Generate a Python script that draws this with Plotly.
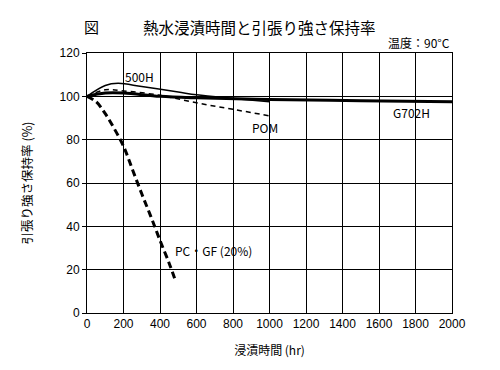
import plotly.graph_objects as go

# Data
g702h_x = [0, 100, 200, 400, 600, 1000, 1500, 2000]
g702h_y = [100, 101.5, 101.5, 100, 99.3, 98.5, 98, 97.5]

h500_x = [0, 100, 170, 300, 500, 600, 800, 1000]
h500_y = [100, 105, 106, 104.5, 102, 100.7, 99, 97.5]

pom_x = [0, 100, 200, 400, 600, 800, 1000]
pom_y = [100, 103, 102.5, 100.5, 97, 94, 91]

pcgf_x = [0, 50, 100, 150, 200, 250, 300, 350, 400, 450, 480]
pcgf_y = [100, 97.5, 92, 85, 77, 66, 55, 44.5, 33.5, 23, 16]

x_ticks = [0, 200, 400, 600, 800, 1000, 1200, 1400, 1600, 1800, 2000]
y_ticks = [0, 20, 40, 60, 80, 100, 120]

JP = "Noto Sans CJK JP, Liberation Sans, sans-serif"
NUM = "Liberation Sans, Arial, sans-serif"

fig = go.Figure()
fig.add_trace(go.Scatter(x=h500_x, y=h500_y, mode="lines", line=dict(color="black", width=1.5, shape="spline"), name="500H"))
fig.add_trace(go.Scatter(x=pom_x, y=pom_y, mode="lines", line=dict(color="black", width=1.5, dash="5px,4px", shape="spline"), name="POM"))
fig.add_trace(go.Scatter(x=g702h_x, y=g702h_y, mode="lines", line=dict(color="black", width=3, shape="spline"), name="G702H"))
fig.add_trace(go.Scatter(x=pcgf_x, y=pcgf_y, mode="lines", line=dict(color="black", width=3, dash="7px,4px", shape="spline"), name="PC・GF(20%)"))

annots = [
    dict(x=290, y=109, text="500H"),
    dict(x=975, y=85.5, text="POM"),
    dict(x=1780, y=92.5, text="G702H"),
    dict(x=470, y=29, text="PC・GF (20%)", xanchor="left"),
]
for a in annots:
    fig.add_annotation(x=a["x"], y=a["y"], text=a["text"], showarrow=False,
                       xanchor=a.get("xanchor", "center"),
                       font=dict(family=JP, size=12, color="black"))

fig.add_annotation(xref="paper", yref="paper", x=-0.015, y=1.1, text="図", showarrow=False,
                   xanchor="left", yanchor="middle", font=dict(family=JP, size=15, color="black"))
fig.add_annotation(xref="paper", yref="paper", x=0.148, y=1.1, text="熱水浸漬時間と引張り強さ保持率", showarrow=False,
                   xanchor="left", yanchor="middle", font=dict(family=JP, size=15.5, color="black"))
fig.add_annotation(xref="paper", yref="paper", x=1.0, y=1.04, text="温度：90°C", showarrow=False,
                   xanchor="right", yanchor="middle", font=dict(family=JP, size=12, color="black"))

fig.update_layout(
    width=492, height=362,
    margin=dict(l=79, r=48, t=45, b=57, autoexpand=False),
    paper_bgcolor="white", plot_bgcolor="white",
    showlegend=False,
    font=dict(family=NUM, size=12, color="black"),
    xaxis=dict(range=[0, 2000], tickvals=x_ticks, showgrid=True, gridcolor="black", gridwidth=1,
               showline=True, linecolor="black", linewidth=1, mirror=True, zeroline=False,
               ticks="", tickfont=dict(family=NUM, size=12), automargin=False,
               title=dict(text="浸漬時間 (hr)", font=dict(family=JP, size=12), standoff=16)),
    yaxis=dict(range=[0, 120], tickvals=y_ticks, showgrid=True, gridcolor="black", gridwidth=1,
               showline=True, linecolor="black", linewidth=1, mirror=True, zeroline=False,
               ticks="outside", ticklen=4, tickcolor="black", tickfont=dict(family=NUM, size=12),
               automargin=False,
               title=dict(text="引張り強さ保持率 (%)", font=dict(family=JP, size=12.5), standoff=24)),
)

fig.write_html("out.html")
